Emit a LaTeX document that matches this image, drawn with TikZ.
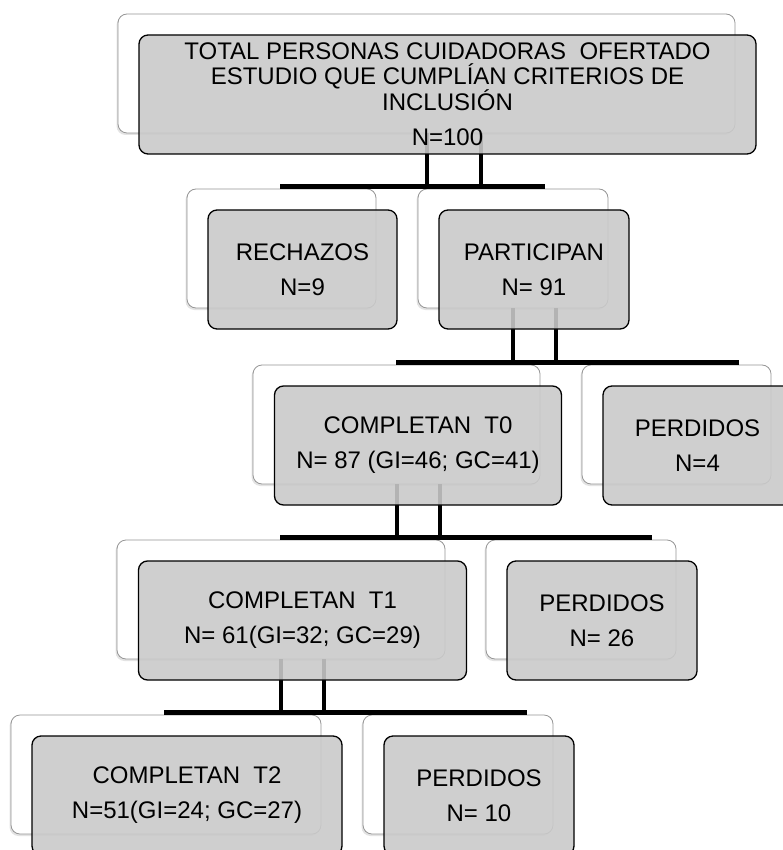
\documentclass[tikz,border=0pt]{standalone}
\usepackage{fontspec}
\setmainfont{Liberation Sans}
\usetikzlibrary{shadows}
\definecolor{boxgray}{RGB}{202,202,202}
\definecolor{edgegray}{RGB}{150,150,150}
\begin{document}
\begin{tikzpicture}[x=1pt,y=-1pt,
  backbox/.style={draw=edgegray, line width=0.8pt, fill=white, rounded corners=9pt, inner sep=0pt,
     drop shadow={shadow xshift=-1.5pt, shadow yshift=-2pt, opacity=0.22}},
  frontbox/.style={draw=black, line width=1.3pt, fill=boxgray, fill opacity=0.89, text opacity=1,
     rounded corners=9pt, inner sep=0pt, align=center, font=\fontsize{24}{25}\selectfont},
  conn/.style={line width=4pt},
  hbar/.style={line width=5pt}]
\useasboundingbox (0,0) rectangle (783,850);
\clip (0,0) rectangle (783,850);
\fill[white] (0,0) rectangle (783,850);

% back (white) boxes
\node[backbox, minimum width=617pt, minimum height=119pt] (w0) at (426.5,73.5) {};
\node[backbox, minimum width=189pt, minimum height=119pt] (wrech) at (281.5,248.5) {};
\node[backbox, minimum width=190pt, minimum height=119pt] (wpart) at (513,248.5) {};
\node[backbox, minimum width=287pt, minimum height=119pt] (wt0) at (396.5,424.5) {};
\node[backbox, minimum width=189pt, minimum height=119pt] (wp4) at (676.5,424.5) {};
\node[backbox, minimum width=328pt, minimum height=119pt] (wt1) at (281,599.5) {};
\node[backbox, minimum width=190pt, minimum height=119pt] (wp26) at (581,599.5) {};
\node[backbox, minimum width=310pt, minimum height=119pt] (wt2) at (166,774.5) {};
\node[backbox, minimum width=190pt, minimum height=119pt] (wp10) at (458,774.5) {};

% bar end points
\coordinate (b1l) at (280,187);  \coordinate (b1r) at (545,187);
\coordinate (b2l) at (396,362);  \coordinate (b2r) at (739,362);
\coordinate (b3l) at (280,537);  \coordinate (b3r) at (652,537);
\coordinate (b4l) at (164,712);  \coordinate (b4r) at (527,712);

% connector start points
\coordinate (v1a) at (w0.south);   \coordinate (v1b) at ([xshift=54.5pt]w0.south);
\coordinate (v2a) at (wpart.south); \coordinate (v2b) at ([xshift=43pt]wpart.south);
\coordinate (v3a) at (wt0.south);  \coordinate (v3b) at ([xshift=43.5pt]wt0.south);
\coordinate (v4a) at (wt1.south);  \coordinate (v4b) at ([xshift=43pt]wt1.south);

\draw[conn] (v1a) -- (v1a |- b1l);  \draw[conn] (v1b) -- (v1b |- b1l);
\draw[conn] (v2a) -- (v2a |- b2l);  \draw[conn] (v2b) -- (v2b |- b2l);
\draw[conn] (v3a) -- (v3a |- b3l);  \draw[conn] (v3b) -- (v3b |- b3l);
\draw[conn] (v4a) -- (v4a |- b4l);  \draw[conn] (v4b) -- (v4b |- b4l);
\draw[hbar] (b1l) -- (b1r);
\draw[hbar] (b2l) -- (b2r);
\draw[hbar] (b3l) -- (b3r);
\draw[hbar] (b4l) -- (b4r);

% front (gray) boxes
\node[frontbox, minimum width=617pt, minimum height=119pt] (g0) at (447.5,94.5)
  {TOTAL PERSONAS CUIDADORAS\ \ OFERTADO\\ESTUDIO QUE CUMPLÍAN CRITERIOS DE\\INCLUSIÓN\\[10pt]N=100};
\node[frontbox, minimum width=189pt, minimum height=119pt] (grech) at (302.5,269.5) {RECHAZOS\\[10pt]N=9};
\node[frontbox, minimum width=190pt, minimum height=119pt] (gpart) at (534,269.5) {PARTICIPAN\\[10pt]N= 91};
\node[frontbox, minimum width=287pt, minimum height=119pt] (gt0) at (418,445.5) {COMPLETAN\ \ T0\\[10pt]N= 87 (GI=46; GC=41)};
\node[frontbox, minimum width=189pt, minimum height=119pt] (gp4) at (697.5,445.5) {PERDIDOS\\[10pt]N=4};
\node[frontbox, minimum width=328pt, minimum height=119pt] (gt1) at (302.5,620.5) {COMPLETAN\ \ T1\\[10pt]N= 61(GI=32; GC=29)};
\node[frontbox, minimum width=190pt, minimum height=119pt] (gp26) at (602,620.5) {PERDIDOS\\[10pt]N= 26};
\node[frontbox, minimum width=310pt, minimum height=119pt] (gt2) at (187,795.5) {COMPLETAN\ \ T2\\[10pt]N=51(GI=24; GC=27)};
\node[frontbox, minimum width=190pt, minimum height=119pt] (gp10) at (479,795.5) {PERDIDOS\\[10pt]N= 10};
\end{tikzpicture}
\end{document}
